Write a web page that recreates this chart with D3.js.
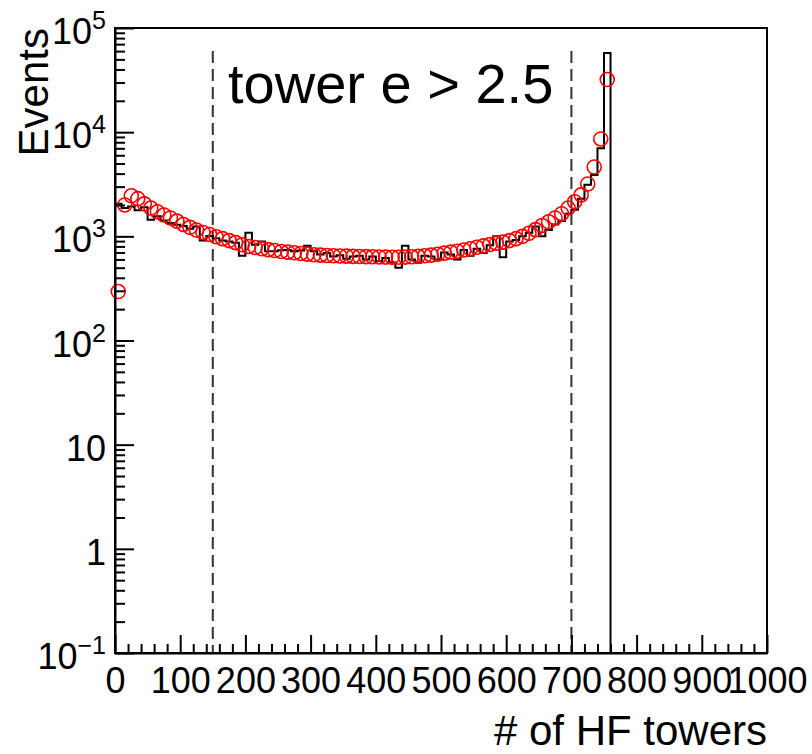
<!DOCTYPE html>
<html>
<head>
<meta charset="utf-8">
<script src="https://cdn.jsdelivr.net/npm/d3@7"></script>
<style>
  html, body { margin: 0; padding: 0; background: #fff; }
  text { font-family: "Liberation Sans", Arial, Helvetica, sans-serif; }
</style>
</head>
<body>
<svg id="chart" width="812" height="754"></svg>
<script>
// ---------- data ----------
const binWidth = 10;
const binLowEdges = d3.range(0, 760, 10);   // 76 bins: 0..750
const histValues = [
  2050, 1870, 1930, 1780, 1900, 1440, 1560, 1420, 1340, 1290,
  1260, 1180, 1240, 910, 1010, 960, 910, 890, 870, 650,
  1080, 830, 890, 720, 720, 735, 740, 720, 730, 810,
  720, 670, 690, 640, 660, 610, 640, 650, 600, 640,
  580, 620, 560, 500, 810, 600, 560, 650, 640, 600,
  700, 670, 600, 740, 650, 760, 690, 820, 1000, 630,
  890, 920, 1000, 1080, 1240, 1000, 1150, 1300, 1400, 1650,
  1800, 2300, 3130, 3870, 7000, 57500
];
const markerValues = [
  295, 2000, 2450, 2300, 2050, 1870, 1720, 1600, 1500, 1400,
  1300, 1220, 1150, 1090, 1040, 990, 950, 910, 870, 830,
  800, 780, 760, 745, 730, 715, 705, 695, 685, 675,
  665, 660, 655, 650, 648, 645, 642, 640, 638, 636,
  634, 632, 630, 630, 632, 636, 642, 650, 660, 672,
  690, 705, 720, 740, 760, 785, 810, 835, 860, 880,
  910, 950, 1000, 1070, 1160, 1270, 1380, 1500, 1650, 1870,
  2150, 2500, 3180, 4630, 8600, 32000
];
const cutLines = [150, 700];
const cutTop = 60000;
const xMajorTicks = d3.range(0, 1001, 100);
const xMinorTicks = d3.range(0, 1001, 20).filter(v => v % 100 !== 0);
const yMajorTicks = [0.1, 1, 10, 100, 1000, 10000, 100000];
const yTickLabels = [["10", "\u22121"], ["1", ""], ["10", ""], ["10", "2"], ["10", "3"], ["10", "4"], ["10", "5"]];
const labelText = "tower e > 2.5";
const xTitle = "# of HF towers";
const yTitle = "Events";

// ---------- layout ----------
const L = 115, R = 767, T = 28, B = 653;
const svg = d3.select("#chart");
const x = d3.scaleLinear().domain([0, 1000]).range([L, R]);
const y = d3.scaleLog().domain([0.1, 100000]).range([B, T]);

const yMinorTicks = [];
for (let d = 0; d < yMajorTicks.length - 1; d++) {
  for (let m = 2; m <= 9; m++) yMinorTicks.push(yMajorTicks[d] * m);
}

// frame
svg.append("rect").attr("x", L).attr("y", T).attr("width", R - L).attr("height", B - T)
  .attr("fill", "none").attr("stroke", "#000").attr("stroke-width", 2);

// dashed cut lines
svg.selectAll("line.cut").data(cutLines).join("line").attr("class", "cut")
  .attr("x1", d => x(d)).attr("x2", d => x(d))
  .attr("y1", y(cutTop)).attr("y2", B)
  .attr("stroke", "#333").attr("stroke-width", 2).attr("stroke-dasharray", "12,6");

// histogram
const pts = [[0, 0.1]];
histValues.forEach((v, i) => pts.push([binLowEdges[i], v]));
pts.push([binLowEdges[binLowEdges.length - 1] + binWidth, histValues[histValues.length - 1]]);
pts.push([binLowEdges[binLowEdges.length - 1] + binWidth, 0.1]);
const line = d3.line().x(d => x(d[0])).y(d => y(d[1])).curve(d3.curveStepAfter);
svg.append("path").attr("d", line(pts))
  .attr("fill", "none").attr("stroke", "#000").attr("stroke-width", 2);

// markers (red open circles)
svg.append("g").selectAll("circle").data(markerValues).join("circle")
  .attr("cx", (d, i) => x(binLowEdges[i] + binWidth / 2))
  .attr("cy", d => y(d))
  .attr("r", 7)
  .attr("fill", "none").attr("stroke", "#ff0000").attr("stroke-width", 1.6);

// x axis
const gx = svg.append("g").attr("transform", `translate(0,${B})`);
gx.call(d3.axisBottom(x).tickValues(xMajorTicks).tickSizeInner(-18).tickSizeOuter(0)
  .tickPadding(14).tickFormat(d3.format("d")));
gx.select(".domain").attr("stroke-width", 2);
gx.selectAll(".tick line").attr("stroke-width", 2);
gx.selectAll(".tick text").attr("font-size", 36).attr("fill", "#000")
  .attr("font-family", "'Liberation Sans', Arial, sans-serif");
const gxm = svg.append("g").attr("transform", `translate(0,${B})`);
gxm.call(d3.axisBottom(x).tickValues(xMinorTicks).tickSizeInner(-9).tickSizeOuter(0).tickFormat(""));
gxm.select(".domain").remove();
gxm.selectAll(".tick line").attr("stroke-width", 2);

// y axis
const gy = svg.append("g").attr("transform", `translate(${L},0)`);
gy.call(d3.axisLeft(y).tickValues(yMajorTicks).tickSizeInner(-19).tickSizeOuter(0).tickFormat(""));
gy.select(".domain").attr("stroke-width", 2);
gy.selectAll(".tick line").attr("stroke-width", 2);
const gym = svg.append("g").attr("transform", `translate(${L},0)`);
gym.call(d3.axisLeft(y).tickValues(yMinorTicks).tickSizeInner(-10).tickSizeOuter(0).tickFormat(""));
gym.select(".domain").remove();
gym.selectAll(".tick line").attr("stroke-width", 2);

// y tick labels with superscripts
yMajorTicks.forEach((v, i) => {
  const [base, exp] = yTickLabels[i];
  const t = svg.append("text").attr("text-anchor", "end")
    .attr("x", 106).attr("y", y(v) + 16).attr("font-size", 36).attr("fill", "#000");
  t.append("tspan").text(base);
  if (exp) t.append("tspan").attr("dy", -15).attr("font-size", 25).text(exp);
});

// axis titles
svg.append("text").attr("x", R).attr("y", 745).attr("text-anchor", "end")
  .attr("font-size", 42).attr("fill", "#000").text(xTitle);
svg.append("text").attr("transform", `translate(48,${T}) rotate(-90)`)
  .attr("text-anchor", "end").attr("font-size", 42).attr("fill", "#000").text(yTitle);

// label
svg.append("text").attr("x", 228).attr("y", 103).attr("font-size", 56).attr("fill", "#000").text(labelText);
</script>
</body>
</html>
